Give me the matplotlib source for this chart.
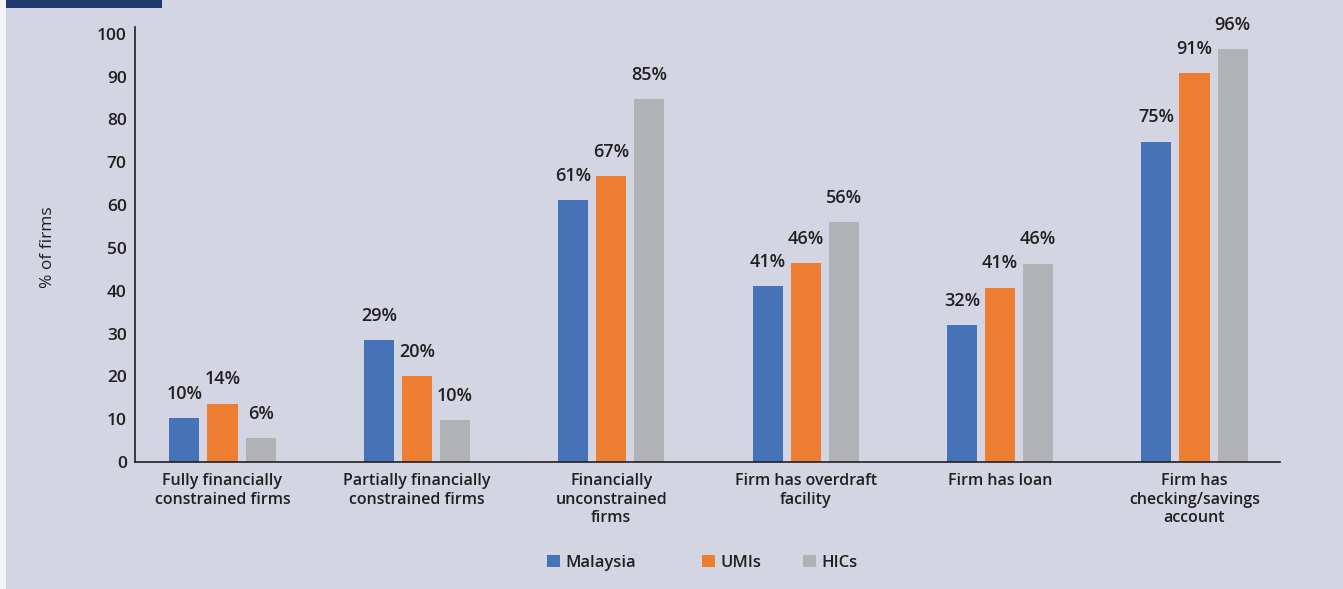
import matplotlib
matplotlib.use("Agg")
import matplotlib.pyplot as plt
import matplotlib.patches as mpatches
import numpy as np

# data
categories = ["Fully financially\nconstrained firms",
              "Partially financially\nconstrained firms",
              "Financially\nunconstrained\nfirms",
              "Firm has overdraft\nfacility",
              "Firm has loan",
              "Firm has\nchecking/savings\naccount"]
series = ["Malaysia", "UMIs", "HICs"]
malaysia = [10.3, 28.5, 61.2, 41.1, 32.0, 74.8]
umis = [13.6, 20.1, 66.8, 46.5, 40.7, 90.9]
hics = [5.6, 9.8, 84.8, 56.1, 46.3, 96.5]
malaysia_lbl = ["10%", "29%", "61%", "41%", "32%", "75%"]
umis_lbl = ["14%", "20%", "67%", "46%", "41%", "91%"]
hics_lbl = ["6%", "10%", "85%", "56%", "46%", "96%"]
yticks = [0, 10, 20, 30, 40, 50, 60, 70, 80, 90, 100]

colors = ["#4672b8", "#ed7d31", "#b1b2b6"]
bg = "#d3d5e3"
txt = "#231f20"

plt.rcParams['font.family'] = ['Open Sans', 'DejaVu Sans']

fig = plt.figure(figsize=(13.43, 5.89), dpi=100)
fig.patch.set_facecolor(bg)
# white strip on the left edge and navy header box (cut off at top)
fig.patches.append(mpatches.Rectangle((0, 0), 6/1343, 1, transform=fig.transFigure,
                                      facecolor="#f4f4f8", edgecolor="none"))
fig.patches.append(mpatches.Rectangle((6/1343, 1 - 8/589), 156/1343, 8/589,
                                      transform=fig.transFigure,
                                      facecolor="#1f3a6f", edgecolor="none"))

ax = fig.add_axes([135/1343, 1 - 462/589, (1280 - 135)/1343, (462 - 27)/589])
ax.set_facecolor(bg)

x = np.arange(len(categories))
w = 0.155
off = 0.196
handles = []
for vals, lbls, c, name, d in [(malaysia, malaysia_lbl, colors[0], series[0], -off),
                               (umis, umis_lbl, colors[1], series[1], 0),
                               (hics, hics_lbl, colors[2], series[2], off)]:
    bars = ax.bar(x + d, vals, w, color=c, label=name, zorder=2)
    handles.append(bars)
    for b, l in zip(bars, lbls):
        ax.annotate(l, (b.get_x() + b.get_width()/2, b.get_height()),
                    xytext=(0, 11), textcoords="offset points",
                    ha="center", va="bottom", fontsize=13,
                    fontweight="semibold", color=txt)

ax.set_xlim(-0.45, 5.44)
ax.set_ylim(0, 101.6)
ax.set_yticks(yticks)
ax.set_xticks(x)
ax.set_xticklabels(categories, fontsize=11.5, color=txt, linespacing=1.2,
                   fontweight="semibold")
for t in ax.get_yticklabels():
    t.set_fontsize(12.5)
    t.set_fontweight("semibold")
    t.set_color(txt)
ax.tick_params(axis="y", length=0, pad=6)
ax.tick_params(axis="x", length=0, pad=8)
for s in ["top", "right"]:
    ax.spines[s].set_visible(False)
for s in ["left", "bottom"]:
    ax.spines[s].set_color(txt)
    ax.spines[s].set_linewidth(1.2)

fig.text(48/1343, 1 - 247/589, "% of firms", rotation=90, ha="center", va="center",
         fontsize=12.5, color=txt)

# legend entries sit at uneven spacing in the original
for h, name, lx in zip(handles, series, [547, 702, 803]):
    leg = fig.legend([h], [name], loc="center left",
                     bbox_to_anchor=(lx/1343, 1 - 563/589),
                     frameon=False, fontsize=12, handlelength=0.75, handleheight=0.75,
                     handletextpad=0.35, borderpad=0, borderaxespad=0)
    for t in leg.get_texts():
        t.set_color(txt)
        t.set_fontweight("semibold")

fig.savefig("out.png", dpi=100, facecolor=fig.get_facecolor())
